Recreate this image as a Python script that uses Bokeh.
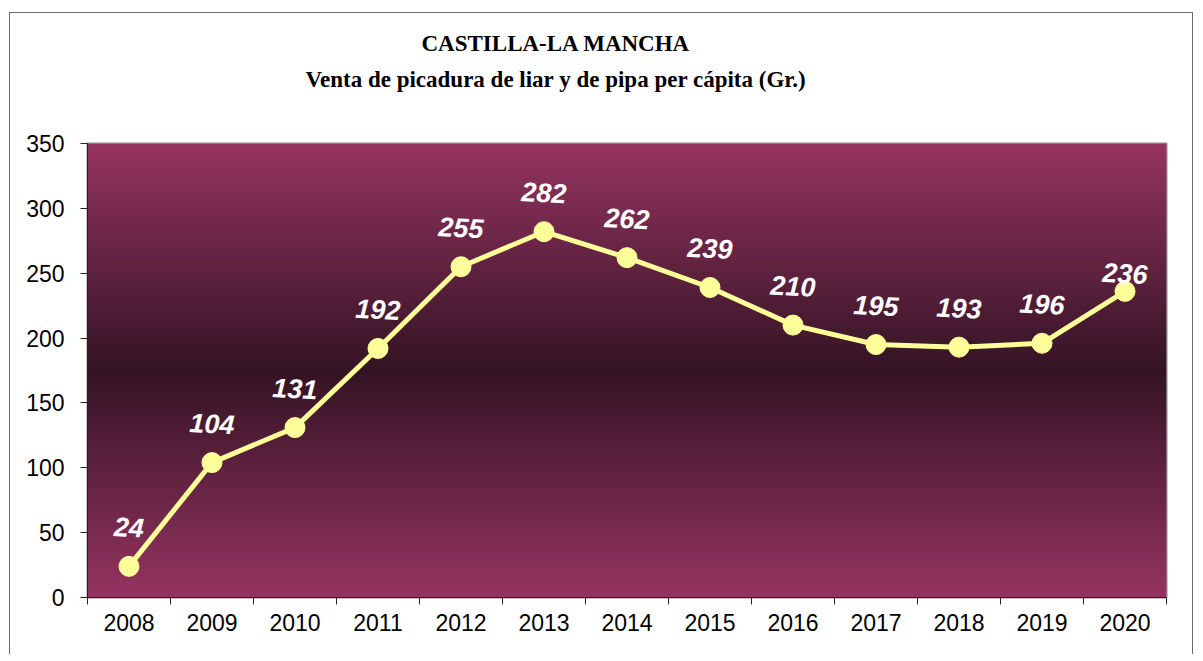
import numpy as np
from bokeh.plotting import figure
from bokeh.models import Range1d, FixedTicker, Title, ColumnDataSource, InlineStyleSheet
from bokeh.core.properties import value
from bokeh.embed import file_html
from bokeh.resources import INLINE

years = ["2008", "2009", "2010", "2011", "2012", "2013", "2014",
         "2015", "2016", "2017", "2018", "2019", "2020"]
sales = [24, 104, 131, 192, 255, 282, 262, 239, 210, 195, 193, 196, 236]
y_ticks = [0, 50, 100, 150, 200, 250, 300, 350]
title_1 = "CASTILLA-LA MANCHA"
title_2 = "Venta de picadura de liar y de pipa per cápita (Gr.)"

# label pixel offsets (style only)
label_dy = [-39] * (len(sales) - 1) + [-18]

W, H = 1195, 653
FL, FT = 87, 143          # frame left / top in px
FW, FH = 1079, 454        # frame width / height in px
p = figure(width=W, height=H, output_backend="svg", toolbar_location=None,
           x_range=Range1d(-0.5, len(years) - 0.5), y_range=Range1d(0, 350),
           min_border_left=FL, min_border_right=W - FL - FW, min_border_top=FT,
           min_border_bottom=H - FT - FH)
p.background_fill_color = "white"
p.border_fill_color = "white"
p.outline_line_color = "#8c8c8c"
p.outline_line_width = 2
p.xgrid.visible = False
p.ygrid.visible = False

# gradient background of plot area
N = 454
t = np.linspace(0, 1, N)
d = np.abs(t - 0.5) * 2
edge = np.array([150, 52, 98])
mid = np.array([52, 20, 36])
cols = mid[None, :] + (edge - mid)[None, :] * d[:, None]
img = np.zeros((N, 1), dtype=np.uint32)
view = img.view(dtype=np.uint8).reshape((N, 1, 4))
view[:, 0, 0] = cols[:, 0].astype(np.uint8)
view[:, 0, 1] = cols[:, 1].astype(np.uint8)
view[:, 0, 2] = cols[:, 2].astype(np.uint8)
view[:, 0, 3] = 255
p.image_rgba(image=[img], x=-0.5, y=0, dw=len(years), dh=350)

xs = list(range(len(years)))
src = ColumnDataSource(dict(x=xs, y=sales, t=[str(v) for v in sales], dy=label_dy))
p.line("x", "y", source=src, line_color="#ffff99", line_width=5)
p.scatter("x", "y", source=src, size=20, fill_color="#ffff99", line_color="#ffff99")
p.text("x", "y", text="t", source=src, y_offset="dy", angle=-0.05,
       text_align="center", text_baseline="middle", text_color="white",
       text_font=value("Liberation Sans"), text_font_style="bold italic",
       text_font_size="27px")

# axes
xa = p.xaxis[0]
xa.ticker = FixedTicker(ticks=xs, minor_ticks=[i - 0.5 for i in range(len(years) + 1)])
xa.major_label_overrides = {i: y for i, y in enumerate(years)}
xa.major_tick_out = 0
xa.major_tick_in = 0
xa.minor_tick_out = 7
xa.minor_tick_in = 0
xa.minor_tick_line_color = "#222222"
xa.axis_line_color = "#222222"
xa.major_label_text_font = "Liberation Sans"
xa.major_label_text_font_size = "23px"
xa.major_label_text_color = "black"
xa.major_label_standoff = 9

ya = p.yaxis[0]
ya.ticker = FixedTicker(ticks=y_ticks, minor_ticks=[])
ya.major_tick_out = 7
ya.major_tick_in = 0
ya.major_tick_line_color = "#222222"
ya.axis_line_color = "#222222"
ya.major_label_text_font = "Liberation Sans"
ya.major_label_text_font_size = "23px"
ya.major_label_text_color = "black"
ya.major_label_standoff = 16

# titles (subtitle line nearest the frame)
p.title.visible = False
t2 = Title(text=title_2, align="left", offset=218, standoff=104,
           text_font="Liberation Serif", text_font_style="bold",
           text_font_size="23px", text_color="black")
t1 = Title(text=title_1, align="left", offset=334, standoff=-86,
           text_font="Liberation Serif", text_font_style="bold",
           text_font_size="23px", text_color="black")
p.add_layout(t2, "above")
p.add_layout(t1, "above")

# outer chart border (left, top, right edges)
p.stylesheets = [InlineStyleSheet(css="""
:host::after {
  content: "";
  position: absolute;
  left: 9px; top: 12px; width: 1182px; height: 641px;
  border: 1px solid #6b6b6b; border-bottom: none;
  pointer-events: none;
}
""")]

open("out.html", "w").write(file_html(p, INLINE))
